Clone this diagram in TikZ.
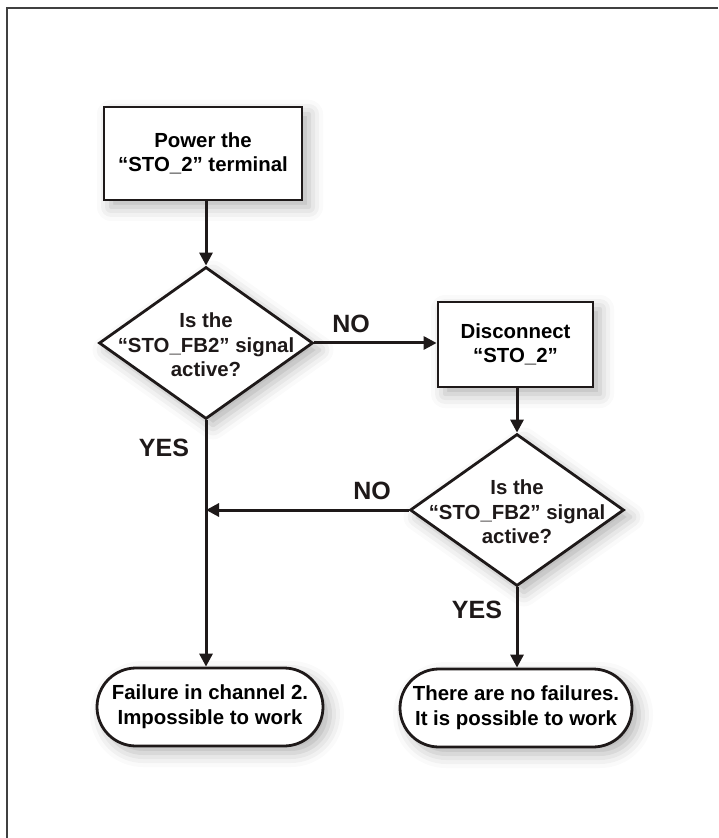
\documentclass[tikz,border=0pt]{standalone}
\usepackage{fontspec}
\setmainfont{Liberation Sans}
\usepackage{tikz}
\usetikzlibrary{positioning,arrows.meta,shapes.geometric,shapes.misc,shadows.blur}
\definecolor{framecol}{RGB}{64,64,64}
\definecolor{inkcol}  {RGB}{30,25,25}

\begin{document}
\begin{tikzpicture}[
  x=0.5pt,y=-0.5pt,
  shade/.style={blur shadow={shadow xshift=3.5pt,shadow yshift=-3.5pt,
                shadow blur radius=7pt,shadow opacity=30}},
  procbox/.style={rectangle,draw=inkcol,fill=white,line width=1.4pt,
                  inner sep=0pt,align=center,shade,
                  font=\bfseries\fontsize{10.2}{12.3}\selectfont},
  decision/.style={diamond,draw=inkcol,fill=white,line width=1.4pt,
                   inner sep=0pt,minimum width=107pt,minimum height=76pt,shade},
  dtext/.style={align=center,inner sep=0pt,text=inkcol,
                font=\bfseries\fontsize{10.2}{12.3}\selectfont},
  termbox/.style={rounded rectangle,draw=inkcol,fill=white,line width=1.4pt,
                  inner sep=0pt,minimum height=39pt,align=center,shade,
                  font=\bfseries\fontsize{10.2}{12.3}\selectfont},
  ansl/.style={font=\bfseries\fontsize{12.5}{15}\selectfont,text=inkcol},
  flow/.style={draw=inkcol,line width=1.5pt},
  arr/.style={flow,-{Triangle[length=6.5pt,width=6.5pt]}},
]
\useasboundingbox (0,0) rectangle (718,838);
\draw[framecol,line width=0.8pt] (7,838) -- (7,8) -- (718,8);

% boxes
\node[procbox,minimum width=99pt,minimum height=46.5pt] (b1) at (203,153.5)
  {Power the\\``STO\_2'' terminal};
\node[decision] (d1) at (206,343) {};
\node[dtext] (t1) at (206,345) {Is the\\``STO\_FB2'' signal\\active?};
\node[procbox,minimum width=77.5pt,minimum height=42.5pt] (b2) at (515.5,344.5)
  {Disconnect\\``STO\_2''};
\node[decision] (d2) at (517,510) {};
\node[dtext] (t2) at (517,512) {Is the\\``STO\_FB2'' signal\\active?};
\node[termbox,minimum width=113pt] (f1) at (210,707)
  {Failure in channel 2.\\Impossible to work};
\node[termbox,minimum width=116pt] (f2) at (516,708)
  {There are no failures.\\It is possible to work};

\coordinate (j1) at (d1.south |- d2.west);

% connectors
\draw[arr] (b1.south -| d1.north) -- (d1.north);
\draw[arr] (d1.east) -- (d1.east -| b2.west);
\draw[arr] (b2.south -| d2.north) -- (d2.north);
\draw[arr] (d2.west) -- (j1);
\draw[arr] (d1.south) -- (d1.south |- f1.north);
\draw[arr] (d2.south) -- (d2.south |- f2.north);

% answers
\node[ansl] (n1) at (351,324) {NO};
\node[ansl] (y1) at (164,448) {YES};
\node[ansl] (n2) at (372,491) {NO};
\node[ansl] (y2) at (477,610) {YES};
\end{tikzpicture}
\end{document}
